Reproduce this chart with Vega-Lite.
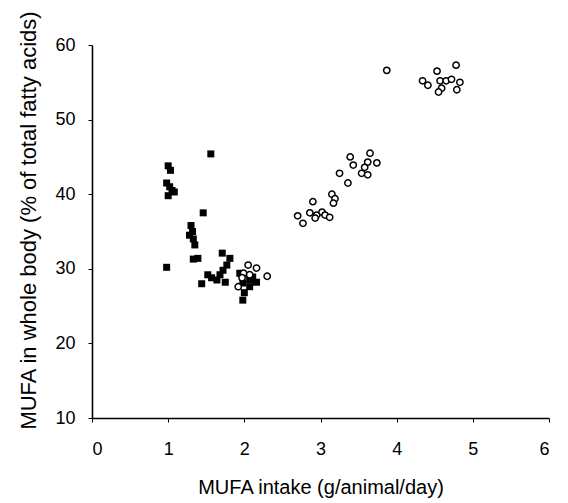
{
  "$schema": "https://vega.github.io/schema/vega-lite/v6.json",
  "width": 457,
  "height": 373,
  "autosize": {"type": "none"},
  "padding": {"left": 92, "top": 45, "right": 19, "bottom": 85},
  "background": "white",
  "config": {
    "view": {"stroke": null},
    "font": "Liberation Sans",
    "axis": {
      "grid": false,
      "domainColor": "black",
      "domainWidth": 1.6,
      "tickColor": "black",
      "tickWidth": 1,
      "tickSize": 4,
      "labelColor": "black",
      "titleColor": "black",
      "labelFont": "Liberation Sans",
      "titleFont": "Liberation Sans",
      "labelFontSize": 18,
      "titleFontSize": 20,
      "titleFontWeight": "normal"
    }
  },
  "data": {
    "values": [
      {"x": 1.56, "y": 45.4, "g": "sq"},
      {"x": 1.00, "y": 43.8, "g": "sq"},
      {"x": 1.03, "y": 43.2, "g": "sq"},
      {"x": 0.98, "y": 41.5, "g": "sq"},
      {"x": 1.02, "y": 41.0, "g": "sq"},
      {"x": 1.05, "y": 40.5, "g": "sq"},
      {"x": 1.00, "y": 39.8, "g": "sq"},
      {"x": 1.08, "y": 40.3, "g": "sq"},
      {"x": 1.46, "y": 37.5, "g": "sq"},
      {"x": 1.30, "y": 35.8, "g": "sq"},
      {"x": 1.32, "y": 35.0, "g": "sq"},
      {"x": 1.28, "y": 34.5, "g": "sq"},
      {"x": 1.33, "y": 34.0, "g": "sq"},
      {"x": 1.35, "y": 33.2, "g": "sq"},
      {"x": 1.33, "y": 31.3, "g": "sq"},
      {"x": 1.39, "y": 31.4, "g": "sq"},
      {"x": 0.98, "y": 30.2, "g": "sq"},
      {"x": 1.44, "y": 28.0, "g": "sq"},
      {"x": 1.71, "y": 32.1, "g": "sq"},
      {"x": 1.81, "y": 31.4, "g": "sq"},
      {"x": 1.77, "y": 30.5, "g": "sq"},
      {"x": 1.72, "y": 29.8, "g": "sq"},
      {"x": 1.68, "y": 29.2, "g": "sq"},
      {"x": 1.52, "y": 29.2, "g": "sq"},
      {"x": 1.57, "y": 28.8, "g": "sq"},
      {"x": 1.64, "y": 28.5, "g": "sq"},
      {"x": 1.75, "y": 28.2, "g": "sq"},
      {"x": 1.94, "y": 29.4, "g": "sq"},
      {"x": 1.98, "y": 28.1, "g": "sq"},
      {"x": 2.00, "y": 26.8, "g": "sq"},
      {"x": 1.98, "y": 25.8, "g": "sq"},
      {"x": 2.07, "y": 28.5, "g": "sq"},
      {"x": 2.11, "y": 28.9, "g": "sq"},
      {"x": 2.16, "y": 28.2, "g": "sq"},
      {"x": 2.07, "y": 27.6, "g": "sq"},
      {"x": 2.05, "y": 30.5, "g": "ci"},
      {"x": 1.99, "y": 29.4, "g": "ci"},
      {"x": 2.16, "y": 30.1, "g": "ci"},
      {"x": 2.30, "y": 29.0, "g": "ci"},
      {"x": 1.97, "y": 28.8, "g": "ci"},
      {"x": 1.92, "y": 27.6, "g": "ci"},
      {"x": 2.07, "y": 29.2, "g": "ci"},
      {"x": 3.39, "y": 45.0, "g": "ci"},
      {"x": 3.43, "y": 43.9, "g": "ci"},
      {"x": 3.65, "y": 45.5, "g": "ci"},
      {"x": 3.62, "y": 44.3, "g": "ci"},
      {"x": 3.74, "y": 44.2, "g": "ci"},
      {"x": 3.54, "y": 42.8, "g": "ci"},
      {"x": 3.62, "y": 42.6, "g": "ci"},
      {"x": 3.58, "y": 43.6, "g": "ci"},
      {"x": 3.25, "y": 42.8, "g": "ci"},
      {"x": 3.36, "y": 41.5, "g": "ci"},
      {"x": 3.15, "y": 40.0, "g": "ci"},
      {"x": 3.19, "y": 39.4, "g": "ci"},
      {"x": 3.17, "y": 38.8, "g": "ci"},
      {"x": 2.90, "y": 39.0, "g": "ci"},
      {"x": 2.86, "y": 37.5, "g": "ci"},
      {"x": 2.95, "y": 37.2, "g": "ci"},
      {"x": 3.02, "y": 37.6, "g": "ci"},
      {"x": 3.06, "y": 37.2, "g": "ci"},
      {"x": 3.12, "y": 36.9, "g": "ci"},
      {"x": 2.70, "y": 37.1, "g": "ci"},
      {"x": 2.77, "y": 36.1, "g": "ci"},
      {"x": 2.93, "y": 36.8, "g": "ci"},
      {"x": 3.87, "y": 56.6, "g": "ci"},
      {"x": 4.53, "y": 56.5, "g": "ci"},
      {"x": 4.78, "y": 57.3, "g": "ci"},
      {"x": 4.34, "y": 55.2, "g": "ci"},
      {"x": 4.41, "y": 54.6, "g": "ci"},
      {"x": 4.57, "y": 55.2, "g": "ci"},
      {"x": 4.65, "y": 55.2, "g": "ci"},
      {"x": 4.72, "y": 55.4, "g": "ci"},
      {"x": 4.83, "y": 55.0, "g": "ci"},
      {"x": 4.59, "y": 54.2, "g": "ci"},
      {"x": 4.55, "y": 53.7, "g": "ci"},
      {"x": 4.79, "y": 54.0, "g": "ci"}
    ]
  },
  "encoding": {
    "x": {
      "field": "x", "type": "quantitative",
      "scale": {"domain": [0, 6], "nice": false},
      "axis": {"values": [0, 1, 2, 3, 4, 5, 6], "title": "MUFA intake (g/animal/day)", "labelPadding": 18, "titleBaseline": "alphabetic", "titleY": 75}
    },
    "y": {
      "field": "y", "type": "quantitative",
      "scale": {"domain": [10, 60], "nice": false, "zero": false},
      "axis": {"values": [10, 20, 30, 40, 50, 60], "title": "MUFA in whole body (% of total fatty acids)", "labelPadding": 13, "titleFontSize": 22, "titleBaseline": "alphabetic", "titleX": -57, "titleY": 175}
    }
  },
  "layer": [
    {
      "transform": [{"filter": "datum.g === 'sq'"}],
      "mark": {"type": "point", "shape": "square", "filled": true, "color": "black", "size": 49, "opacity": 1}
    },
    {
      "transform": [{"filter": "datum.g === 'ci'"}],
      "mark": {"type": "point", "shape": "circle", "filled": false, "fill": "white", "stroke": "black", "strokeWidth": 1.5, "size": 40, "opacity": 1, "fillOpacity": 1}
    }
  ]
}
